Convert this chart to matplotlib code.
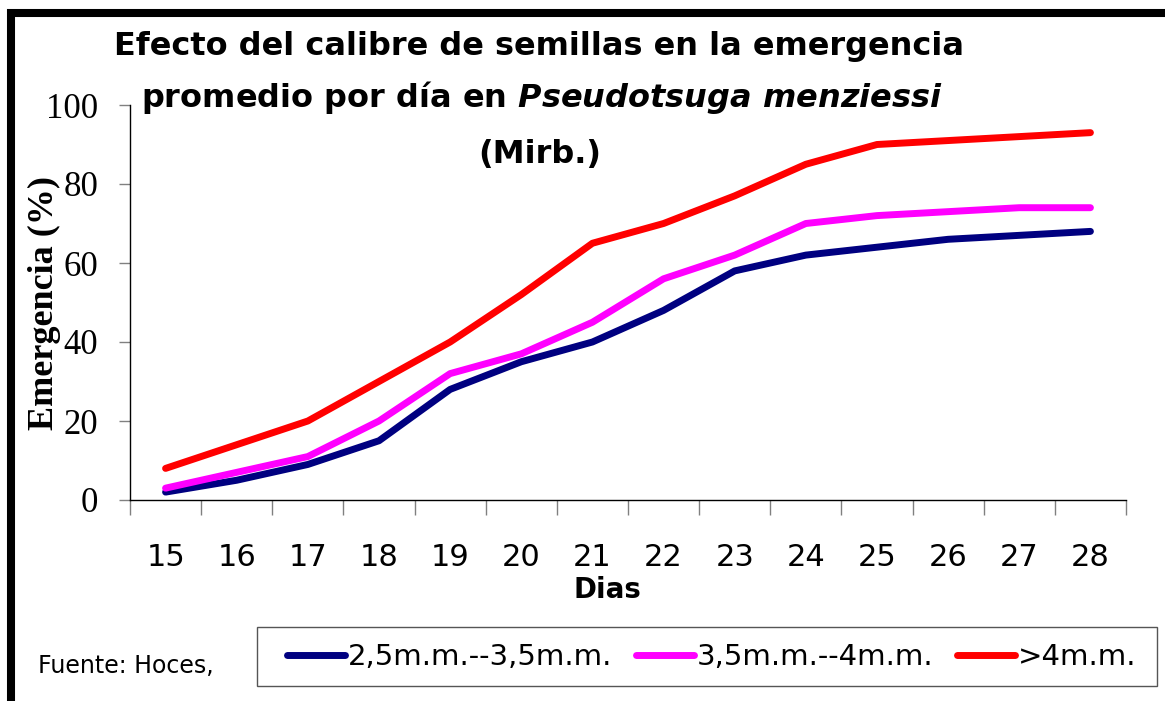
import numpy as np
import matplotlib
matplotlib.use('Agg')
import matplotlib.pyplot as plt
from matplotlib.patches import Rectangle
from matplotlib.lines import Line2D

dias = ['15', '16', '17', '18', '19', '20', '21', '22', '23', '24', '25', '26', '27', '28']
calibre_1 = [2, 5, 9, 15, 28, 35, 40, 48, 58, 62, 64, 66, 67, 68]
calibre_2 = [3, 7, 11, 20, 32, 37, 45, 56, 62, 70, 72, 73, 74, 74]
calibre_3 = [8, 14, 20, 30, 40, 52, 65, 70, 77, 85, 90, 91, 92, 93]
nombres = ['2,5m.m.--3,5m.m.', '3,5m.m.--4m.m.', '>4m.m.']
colores = ['#000080', '#FF00FF', '#FF0000']

plt.rcParams['mathtext.fontset'] = 'custom'
plt.rcParams['mathtext.it'] = 'DejaVu Sans:italic:bold'
plt.rcParams['mathtext.rm'] = 'DejaVu Sans:bold'

W, H = 1165, 701
fig = plt.figure(figsize=(W / 100, H / 100), dpi=100)

# marco negro grueso (solo izquierda y arriba visibles)
fig.patches.append(Rectangle((11 / W, -0.2), 1.5, 1.2 - 12.5 / H,
                             transform=fig.transFigure, fill=False,
                             edgecolor='black', linewidth=5.8))

ax = fig.add_axes([130 / W, 1 - 500 / H, 996 / W, 395 / H])
x = np.arange(len(dias))
for serie, color in zip([calibre_1, calibre_2, calibre_3], colores):
    ax.plot(x, serie, color=color, linewidth=5, solid_capstyle='round',
            solid_joinstyle='round')

ax.set_xlim(-0.5, len(dias) - 0.5)
ax.set_ylim(0, 100)
ax.set_yticks([0, 20, 40, 60, 80, 100])
ax.set_yticklabels(['0', '20', '40', '60', '80', '100'],
                   fontfamily='Liberation Serif', fontsize=25)
ax.tick_params(axis='y', direction='out', length=8, width=1, color='#808080', pad=15)

ax.set_xticks(x)
ax.set_xticklabels(dias, fontsize=22)
ax.set_xticks(np.arange(len(dias) + 1) - 0.5, minor=True)
ax.tick_params(axis='x', which='major', length=0, pad=31)
ax.tick_params(axis='x', which='minor', direction='out', length=11, width=1,
               color='#808080')

for s in ['top', 'right']:
    ax.spines[s].set_visible(False)
ax.spines['left'].set_linewidth(1)
ax.spines['bottom'].set_linewidth(1)

ax.set_ylabel('Emergencia (%)', fontfamily='Liberation Serif', fontweight='bold',
              fontsize=26, labelpad=-11)

fig.text(607 / W, 1 - 590 / H, 'Dias', ha='center', va='center',
         fontsize=20, fontweight='bold')

# titulo
fig.text(539 / W, 1 - 47 / H, 'Efecto del calibre de semillas en la emergencia',
         ha='center', va='center', fontsize=23, fontweight='bold')
fig.text(542 / W, 1 - 98 / H, r'promedio por día en $Pseudotsuga\ menziessi$',
         ha='center', va='center', fontsize=23, fontweight='bold')
fig.text(540 / W, 1 - 155 / H, '(Mirb.)', ha='center', va='center',
         fontsize=23, fontweight='bold')

fig.text(38 / W, 1 - 666 / H, 'Fuente: Hoces,', ha='left', va='center', fontsize=17)

# leyenda
fig.patches.append(Rectangle((257 / W, 1 - 686 / H), 900 / W, 59 / H,
                             transform=fig.transFigure, fill=False,
                             edgecolor='#555555', linewidth=1))
handles = [Line2D([], [], color=c, linewidth=5, solid_capstyle='round') for c in colores]
fig.legend(handles, nombres, ncol=3, loc='center left',
           bbox_to_anchor=(272 / W, 1 - 657 / H), frameon=False, fontsize=21,
           handlelength=2.0, handletextpad=0.1, columnspacing=0.8,
           borderpad=0)

fig.savefig('out.png', dpi=100)
